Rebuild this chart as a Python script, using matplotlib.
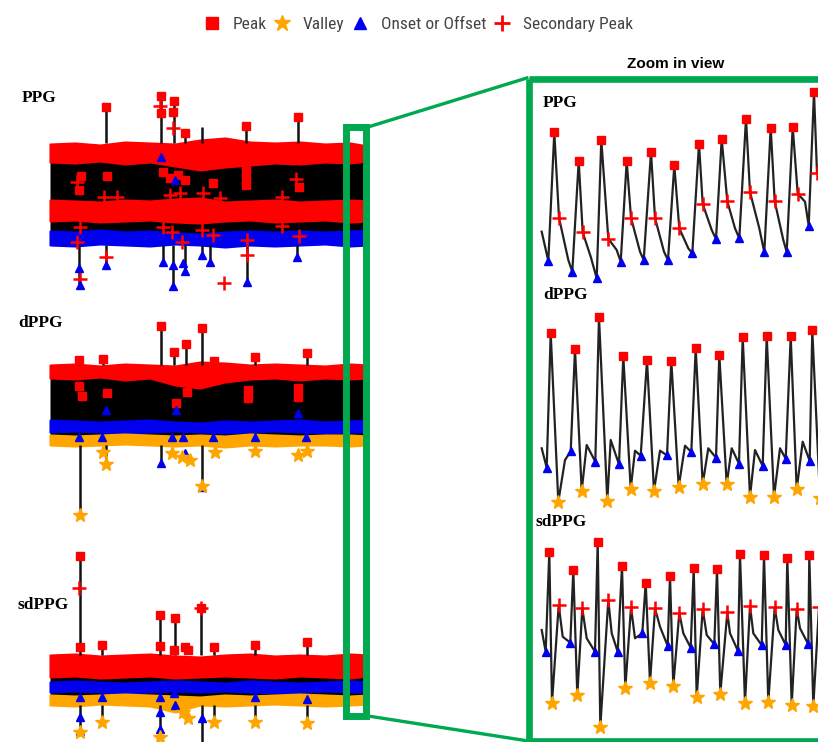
import matplotlib
matplotlib.use("Agg")
import matplotlib.pyplot as plt
from matplotlib.lines import Line2D
from matplotlib.patches import Rectangle
from matplotlib import font_manager

W, H = 818, 742
RED, BLUE, ORANGE, GREEN = "#ff0000", "#0000ee", "#ffa500", "#00a84f"

# ---------------- overview (full recording) ----------------
env_t = [0, 25, 50, 75, 100, 125, 150, 175, 200, 225, 250, 275, 300, 318]

# PPG overview bands (amplitude, a.u.)
ppg_peak_hi = [106, 107, 105, 108, 107, 106, 110, 112, 108, 107, 108, 106, 107, 104]
ppg_peak_lo = [88, 87, 89, 86, 88, 84, 80, 83, 85, 87, 86, 88, 87, 89]
ppg_sec_hi = [50, 49, 48, 50, 49, 51, 52, 48, 49, 50, 48, 49, 50, 49]
ppg_sec_lo = [29, 30, 28, 29, 30, 28, 27, 29, 30, 28, 29, 30, 28, 29]
ppg_on_hi = [19, 18, 20, 18, 19, 17, 16, 18, 19, 18, 19, 18, 19, 20]
ppg_on_lo = [5, 4, 6, 5, 4, 6, 5, 3, 5, 4, 5, 6, 4, 5]

ppg_stem_t = [56, 110.7, 123.7, 135.3, 151.7, 195.7, 247.7, 29, 56, 113.3, 123, 135, 152.3, 160.3, 197, 247.3]
ppg_stem_a = [107, 107, 107, 107, 107, 107, 107, 5, 5, 5, 5, 5, 5, 5, 5, 5]
ppg_stem_b = [142.7, 154.3, 149, 117.3, 123.3, 124, 132.7, -35, -15, -11.7, -36, -20.7, -5, -11.7, -31.7, -6.7]

ppg_sq_t = [56, 110.7, 110.7, 123.7, 122.7, 135.3, 195.7, 247.7, 30.7, 56.7, 28.7, 249, 196, 196, 196,
            113, 120, 128, 135, 163]
ppg_sq_a = [142.7, 154.3, 137, 149, 138.3, 117.3, 124, 132.7, 74.3, 74, 60, 62.7, 80, 72, 65,
            78, 72, 75, 70, 67]
ppg_plus_t = [110, 123.3, 30, 56, 173.7, 197, 27.3, 54, 66.7, 153.3, 170, 231.7, 246, 120, 130,
              112.7, 122.3, 131.7, 151.7, 163.3, 196.7, 249, 27.3, 30, 232]
ppg_plus_a = [144.3, 122.3, -29, -6.7, -33.3, -5, 68.3, 52.7, 52.7, 56.7, 51.7, 53.3, 70.7, 55, 57,
              23.3, 18.3, 8.3, 20, 15, 10, 14.3, 8.3, 23.3, 24]
ppg_tri_t = [29, 30, 56, 113.3, 123, 123.3, 133.3, 135, 152.3, 160.3, 197, 247.3, 110.7, 125]
ppg_tri_a = [-18.3, -35, -15, -11.7, -15, -36, -12.7, -20.7, -5, -11.7, -31.7, -6.7, 92.7, 70]

# dPPG overview bands
dppg_peak_hi = [85, 86, 84, 86, 85, 84, 88, 87, 85, 86, 85, 84, 86, 85]
dppg_peak_lo = [72, 71, 73, 70, 72, 65, 62, 68, 71, 72, 70, 72, 71, 72]
dppg_on_hi = [30, 29, 28, 29, 30, 28, 27, 29, 28, 29, 30, 28, 29, 30]
dppg_on_lo = [18, 19, 18, 17, 18, 19, 18, 17, 18, 19, 18, 17, 18, 18]
dppg_val_hi = [15, 14, 15, 16, 15, 14, 15, 14, 16, 15, 14, 15, 15, 14]
dppg_val_lo = [5, 4, 5, 6, 5, 4, 5, 3, 5, 4, 5, 5, 4, 5]

dppg_stem_t = [110.7, 152.3, 123.7, 136, 28.7, 53.3, 205, 256.7, 30, 110.7, 152.3, 56]
dppg_stem_a = [85, 85, 85, 85, 85, 85, 85, 85, 5, 5, 5, 5]
dppg_stem_b = [124, 122.3, 98.3, 105.7, 90, 90.7, 93.3, 96.7, -65, -13.3, -37.3, -14]

dppg_sq_t = [110.7, 152.3, 123.7, 136, 28.7, 53.3, 205, 256.7, 163.7,
             28.7, 32.3, 56.7, 125.7, 136.7, 198.3, 198, 248.3, 247.7]
dppg_sq_a = [124, 122.3, 98.3, 105.7, 90, 90.7, 93.3, 96.7, 89,
             64, 54.3, 57.3, 46.7, 58.3, 52, 60, 61.7, 52.7]
dppg_tri_t = [56, 125.7, 247.7, 110.7, 152.3, 135.3, 28.7, 52, 122, 133, 163, 205, 256]
dppg_tri_a = [40, 40, 36.7, -13.3, -37.3, -2.7, 13, 13, 13, 13, 13, 13, 13]
dppg_star_t = [30, 152.3, 56, 53.3, 121.7, 131.7, 140, 165, 205, 248.3, 256.7]
dppg_star_a = [-65, -36, -14, -1.7, -3.3, -6.7, -10, -1.7, -0.7, -5, -0.7]

# sdPPG overview bands
sdppg_peak_hi = [45, 46, 44, 45, 46, 44, 43, 45, 46, 44, 45, 44, 46, 45]
sdppg_peak_lo = [23, 24, 22, 23, 24, 22, 23, 24, 23, 22, 24, 23, 22, 24]
sdppg_on_hi = [18, 19, 18, 17, 18, 19, 18, 17, 19, 18, 17, 18, 19, 18]
sdppg_on_lo = [8, 9, 8, 7, 8, 9, 8, 9, 8, 7, 8, 9, 8, 8]
sdppg_val_hi = [5, 4, 5, 6, 5, 4, 3, 5, 4, 5, 6, 5, 4, 5]
sdppg_val_lo = [-5, -6, -4, -5, -6, -12, -5, -6, -5, -4, -5, -6, -5, -4]

sdppg_stem_t = [30.3, 52, 110.3, 124.7, 151.3, 163.7, 205, 256.7, 30.3, 52, 110.3, 152.3, 163.7, 205, 256.7]
sdppg_stem_a = [45, 45, 45, 45, 45, 45, 45, 45, -5, -5, -5, -5, -5, -5, -5]
sdppg_stem_b = [144.3, 55, 85, 82.3, 91.7, 52.7, 55, 58.3, -32, -21.7, -36.7, -60, -21.7, -21.7, -22.7]

sdppg_sq_t = [30.3, 30.3, 52, 110.3, 110.3, 124.7, 123.7, 135.3, 138, 151.3, 163.7, 205, 256.7]
sdppg_sq_a = [144.3, 52.7, 55, 85, 54, 82.3, 50, 53.3, 50, 91.7, 52.7, 55, 58.3]
sdppg_plus_t = [29.3, 151.3]
sdppg_plus_a = [111.7, 91.7]
sdppg_tri_t = [30.3, 30, 110.3, 110.3, 124.7, 152.3, 256.7, 30, 52, 124, 110, 205]
sdppg_tri_a = [-16.7, -30.7, -11.7, -29.3, -5, -18.3, 0.7, 3, 3, 7, 3, 3]
sdppg_star_t = [30, 52, 110.3, 138.3, 133, 163.7, 205, 256.7]
sdppg_star_a = [-32, -21.7, -36.7, -18.3, -12, -21.7, -21.7, -22.7]

zoom_window = (296, 316)  # overview time span shown in the zoom view

# ---------------- zoom view ----------------
# PPG
zppg_on_t = [8.3, 32.3, 56.7, 80.7, 103.7, 128, 152.3, 176, 199.3, 224.3, 246.7, 268.7]
zppg_on_a = [19, 8.3, 1.7, 18.3, 20, 20, 26.7, 41, 41.7, 27.7, 28, 54.3]
zppg_pk_t = [14.3, 38.7, 61.3, 86.7, 111, 134.3, 159, 181.7, 206, 230.7, 252.7, 274]
zppg_pk_a = [147.7, 118.7, 140, 118.7, 128, 114.7, 136.3, 141, 161.3, 152.3, 153.3, 188]
zppg_sec_t = [19, 42.7, 68.3, 91, 115, 139.3, 162.7, 187.3, 210, 234.7, 257.7, 277]
zppg_sec_a = [62.3, 47.7, 41.3, 62.3, 62, 51.7, 76, 78.7, 88, 78.7, 86.3, 107]
zppg_tail_t = [28.3, 50.7, 76.7, 100, 124, 148.3, 171.7, 195, 219.3, 243.3, 265]
zppg_tail_a = [20, 23.3, 30, 28.3, 28.3, 31.7, 50, 51.7, 51.7, 40, 78.3]
zppg_start = (1.7, 48.3)

# dPPG
zd_on_t = [6.7, 30.7, 55.3, 79, 100.7, 127, 151.3, 176, 199, 222.7, 245.7, 269.7]
zd_on_a = [52.3, 68.7, 58.3, 55.7, 64.3, 64.7, 68, 62.3, 56.3, 54, 61.3, 59]
zd_pk_t = [10.7, 35, 59, 83.3, 107, 131.3, 155.7, 179.3, 202.7, 226.7, 250.7, 272.3]
zd_pk_a = [186.7, 170.7, 202.7, 164, 159.7, 159, 171.7, 165.3, 182.7, 183.7, 183.7, 189.7]
zd_val_t = [18.3, 41.7, 67.3, 90.7, 114, 138.7, 162.7, 186.7, 210, 234, 256.7, 280]
zd_val_a = [18.3, 29.3, 19.3, 31.3, 29, 33.3, 36, 36, 23.3, 23, 30.7, 22]
zd_bump_t = [25, 46.7, 70.7, 95, 120, 145, 168.3, 191.7, 215, 240, 262.7]
zd_bump_a = [60, 75, 80, 69.3, 69.3, 74.3, 71.7, 71.7, 70, 71.7, 78.3]
zd_start = (1.7, 71.7)

# sdPPG
zs_on_t = [5.7, 30.3, 55, 77.7, 102.3, 127.7, 150.7, 174.3, 198, 221.7, 245.7, 268.3]
zs_on_a = [88.3, 97.3, 88.3, 88.3, 106.7, 94, 92.3, 95.7, 89, 94.7, 95, 95.7]
zs_pk_t = [9.3, 33.3, 57.7, 82, 105.7, 130, 153.7, 177, 200, 224, 247.3, 269.3]
zs_pk_a = [188, 170, 198, 173.7, 157.3, 164.3, 171.7, 170.7, 185.7, 184.7, 182, 184.7]
zs_val_t = [12, 37.3, 60.3, 85.3, 110, 133.3, 156.7, 180.3, 205, 228.3, 251.7, 273.3]
zs_val_a = [37.3, 44.7, 13, 51.7, 57.3, 54, 43, 46.3, 37.3, 38, 35, 34]
zs_sec_t = [18.7, 42.3, 68.3, 91, 115, 139.3, 162.7, 187.3, 210, 234.7, 256.7, 279]
zs_sec_a = [135, 131.7, 140, 132.7, 131.7, 127.3, 131, 127.7, 134.3, 132.7, 131.3, 133]
zs_mid_t = [22.7, 46.7, 71.7, 95, 120, 143.3, 166.7, 190, 213.3, 238.3, 260]
zs_mid_a = [103.3, 101.7, 106.7, 101.7, 113.3, 106.7, 105, 106.7, 106.7, 110, 111.7]
zs_start = (1.7, 110)

legend_labels = ["Peak", "Valley", "Onset or Offset", "Secondary Peak"]


def px_axes(fig, x0, y0, x1, y1):
    ax = fig.add_axes([x0 / W, 1 - y1 / H, (x1 - x0) / W, (y1 - y0) / H])
    ax.set_facecolor("none")
    ax.axis("off")
    return ax


def mk(ax, t, a, kind, size=1.0, z=5):
    style = {
        "sq": dict(marker="s", color=RED, ms=6 * size),
        "plus": dict(marker="+", color=RED, ms=10 * size, mew=1.8),
        "tri": dict(marker="^", color=BLUE, ms=6 * size),
        "star": dict(marker="*", color=ORANGE, ms=10 * size),
    }[kind]
    ax.plot(t, a, ls="none", zorder=z, **style)


def overview(ax, bands, stems):
    # black signal body spans whole band, then coloured marker bands on top
    ax.fill_between(env_t, bands[0][0], bands[-1][1], color="black", lw=0, zorder=1)
    for hi, lo, col in bands:
        ax.fill_between(env_t, hi, lo, color=col, lw=1.5, ec=col, zorder=2)
    st, sa, sb = stems
    ax.vlines(st, sa, sb, color="#111111", lw=1.8, zorder=3)


def interleave(start, groups, tail):
    t, a = [start[0]], [start[1]]
    n = len(groups[0][0])
    for i in range(n):
        for gt, ga in groups:
            t.append(gt[i])
            a.append(ga[i])
    for gt, ga in tail:
        t.extend(gt)
        a.extend(ga)
    return t, a


# narrow sans for the legend if one is installed
installed = {f.name for f in font_manager.fontManager.ttflist}
narrow = [n for n in ["Liberation Sans Narrow", "DejaVu Sans Condensed", "Roboto Condensed"] if n in installed]
leg_family = narrow[:1] + ["DejaVu Sans"]
leg_size = 12.5 if narrow else 11

fig = plt.figure(figsize=(W / 100, H / 100), dpi=100)

# ---- overview PPG ----
ax1 = px_axes(fig, 40, 85, 375, 300)
ax1.set_xlim(-10, 325)
ax1.set_ylim(-50, 165)
overview(ax1, [(ppg_peak_hi, ppg_peak_lo, RED), (ppg_sec_hi, ppg_sec_lo, RED), (ppg_on_hi, ppg_on_lo, BLUE)],
         (ppg_stem_t, ppg_stem_a, ppg_stem_b))
mk(ax1, ppg_sq_t, ppg_sq_a, "sq")
mk(ax1, ppg_plus_t, ppg_plus_a, "plus")
mk(ax1, ppg_tri_t, ppg_tri_a, "tri")

# ---- overview dPPG ----
ax2 = px_axes(fig, 40, 310, 375, 530)
ax2.set_xlim(-10, 325)
ax2.set_ylim(-80, 140)
overview(ax2, [(dppg_peak_hi, dppg_peak_lo, RED), (dppg_on_hi, dppg_on_lo, BLUE), (dppg_val_hi, dppg_val_lo, ORANGE)],
         (dppg_stem_t, dppg_stem_a, dppg_stem_b))
mk(ax2, dppg_sq_t, dppg_sq_a, "sq")
mk(ax2, dppg_tri_t, dppg_tri_a, "tri")
mk(ax2, dppg_star_t, dppg_star_a, "star")

# ---- overview sdPPG ----
ax3 = px_axes(fig, 40, 540, 375, 742)
ax3.set_xlim(-10, 325)
ax3.set_ylim(-42, 160)
overview(ax3, [(sdppg_peak_hi, sdppg_peak_lo, RED), (sdppg_on_hi, sdppg_on_lo, BLUE), (sdppg_val_hi, sdppg_val_lo, ORANGE)],
         (sdppg_stem_t, sdppg_stem_a, sdppg_stem_b))
mk(ax3, sdppg_sq_t, sdppg_sq_a, "sq")
mk(ax3, sdppg_plus_t, sdppg_plus_a, "plus")
mk(ax3, sdppg_tri_t, sdppg_tri_a, "tri")
mk(ax3, sdppg_star_t, sdppg_star_a, "star")

# ---- zoom PPG ----
zx0, zx1 = 532, 818
zax1 = px_axes(fig, zx0, 85, zx1, 290)
zax1.set_xlim(-8, 278)
zax1.set_ylim(-10, 195)
t, a = interleave(zppg_start, [(zppg_on_t[:-1], zppg_on_a[:-1]), (zppg_pk_t[:-1], zppg_pk_a[:-1]),
                               (zppg_sec_t[:-1], zppg_sec_a[:-1]), (zppg_tail_t, zppg_tail_a)],
                  [([zppg_on_t[-1], zppg_pk_t[-1], zppg_sec_t[-1]], [zppg_on_a[-1], zppg_pk_a[-1], zppg_sec_a[-1]])])
zax1.plot(t, a, color="#222222", lw=1.6, zorder=2)
mk(zax1, zppg_pk_t, zppg_pk_a, "sq")
mk(zax1, zppg_on_t, zppg_on_a, "tri")
mk(zax1, zppg_sec_t, zppg_sec_a, "plus")

# ---- zoom dPPG ----
zax2 = px_axes(fig, zx0, 290, zx1, 515)
zax2.set_xlim(-8, 278)
zax2.set_ylim(5, 230)
t, a = interleave(zd_start, [(zd_on_t[:-1], zd_on_a[:-1]), (zd_pk_t[:-1], zd_pk_a[:-1]),
                             (zd_val_t[:-1], zd_val_a[:-1]), (zd_bump_t, zd_bump_a)],
                  [([zd_on_t[-1], zd_pk_t[-1], zd_val_t[-1]], [zd_on_a[-1], zd_pk_a[-1], zd_val_a[-1]])])
zax2.plot(t, a, color="#222222", lw=1.6, zorder=2)
mk(zax2, zd_pk_t, zd_pk_a, "sq")
mk(zax2, zd_on_t, zd_on_a, "tri")
mk(zax2, zd_val_t, zd_val_a, "star")

# ---- zoom sdPPG ----
zax3 = px_axes(fig, zx0, 515, zx1, 738)
zax3.set_xlim(-8, 278)
zax3.set_ylim(2, 225)
t, a = interleave(zs_start, [(zs_on_t[:-1], zs_on_a[:-1]), (zs_pk_t[:-1], zs_pk_a[:-1]),
                             (zs_val_t[:-1], zs_val_a[:-1]), (zs_sec_t[:-1], zs_sec_a[:-1]),
                             (zs_mid_t, zs_mid_a)],
                  [([zs_on_t[-1], zs_pk_t[-1], zs_val_t[-1], zs_sec_t[-1]],
                    [zs_on_a[-1], zs_pk_a[-1], zs_val_a[-1], zs_sec_a[-1]])])
zax3.plot(t, a, color="#222222", lw=1.6, zorder=2)
mk(zax3, zs_pk_t, zs_pk_a, "sq")
mk(zax3, zs_on_t, zs_on_a, "tri")
mk(zax3, zs_val_t, zs_val_a, "star")
mk(zax3, zs_sec_t, zs_sec_a, "plus")

# ---- panel labels ----
serif = dict(family=["Liberation Serif", "DejaVu Serif"], weight="bold", size=12.5, color="black")
fig.text(22 / W, 1 - 98 / H, "PPG", va="center", **serif)
fig.text(18 / W, 1 - 323 / H, "dPPG", va="center", **serif)
fig.text(18 / W, 1 - 605 / H, "sdPPG", va="center", **serif)
fig.text(543 / W, 1 - 103 / H, "PPG", va="center", **serif)
fig.text(543 / W, 1 - 295 / H, "dPPG", va="center", **serif)
fig.text(536 / W, 1 - 522 / H, "sdPPG", va="center", **serif)
fig.text(676 / W, 1 - 64 / H, "Zoom in view", ha="center", va="center",
         family=["Liberation Sans", "DejaVu Sans"], weight="bold", size=11)

# ---- green zoom frames ----
deco = fig.add_axes([0, 0, 1, 1], zorder=10)
deco.set_xlim(0, W)
deco.set_ylim(H, 0)
deco.axis("off")
deco.set_facecolor("none")
sx0 = ax1.transData.transform((zoom_window[0], 0))[0]
sx1 = ax1.transData.transform((zoom_window[1], 0))[0]
sy0, sy1 = 127, 716
deco.add_patch(Rectangle((sx0, sy0), sx1 - sx0, sy1 - sy0, fill=False, ec=GREEN, lw=5, joinstyle="miter"))
bx0, by0, by1 = 528.5, 78.5, 741
deco.add_patch(Rectangle((bx0, by0), W + 10 - bx0, by1 - by0, fill=False, ec=GREEN, lw=4.8,
                         joinstyle="miter", clip_on=False))
deco.plot([sx1 + 2, bx0], [sy0, by0 - 1], color=GREEN, lw=2.4, solid_capstyle="butt")
deco.plot([sx1 + 2, bx0], [sy1, by1], color=GREEN, lw=2.4, solid_capstyle="butt")

# ---- legend ----
handles = [
    Line2D([], [], ls="none", marker="s", color=RED, ms=8),
    Line2D([], [], ls="none", marker="*", color=ORANGE, ms=12),
    Line2D([], [], ls="none", marker="^", color=BLUE, ms=8),
    Line2D([], [], ls="none", marker="+", color=RED, ms=12, mew=2),
]
leg = fig.legend(handles, legend_labels, loc="center", bbox_to_anchor=(418 / W, 1 - 24 / H), ncol=4,
                 frameon=False, handlelength=1.0, handletextpad=0.7, columnspacing=0.4,
                 prop=dict(family=leg_family, size=leg_size))
for txt in leg.get_texts():
    txt.set_color("#444444")

fig.savefig("out.png", dpi=100)
